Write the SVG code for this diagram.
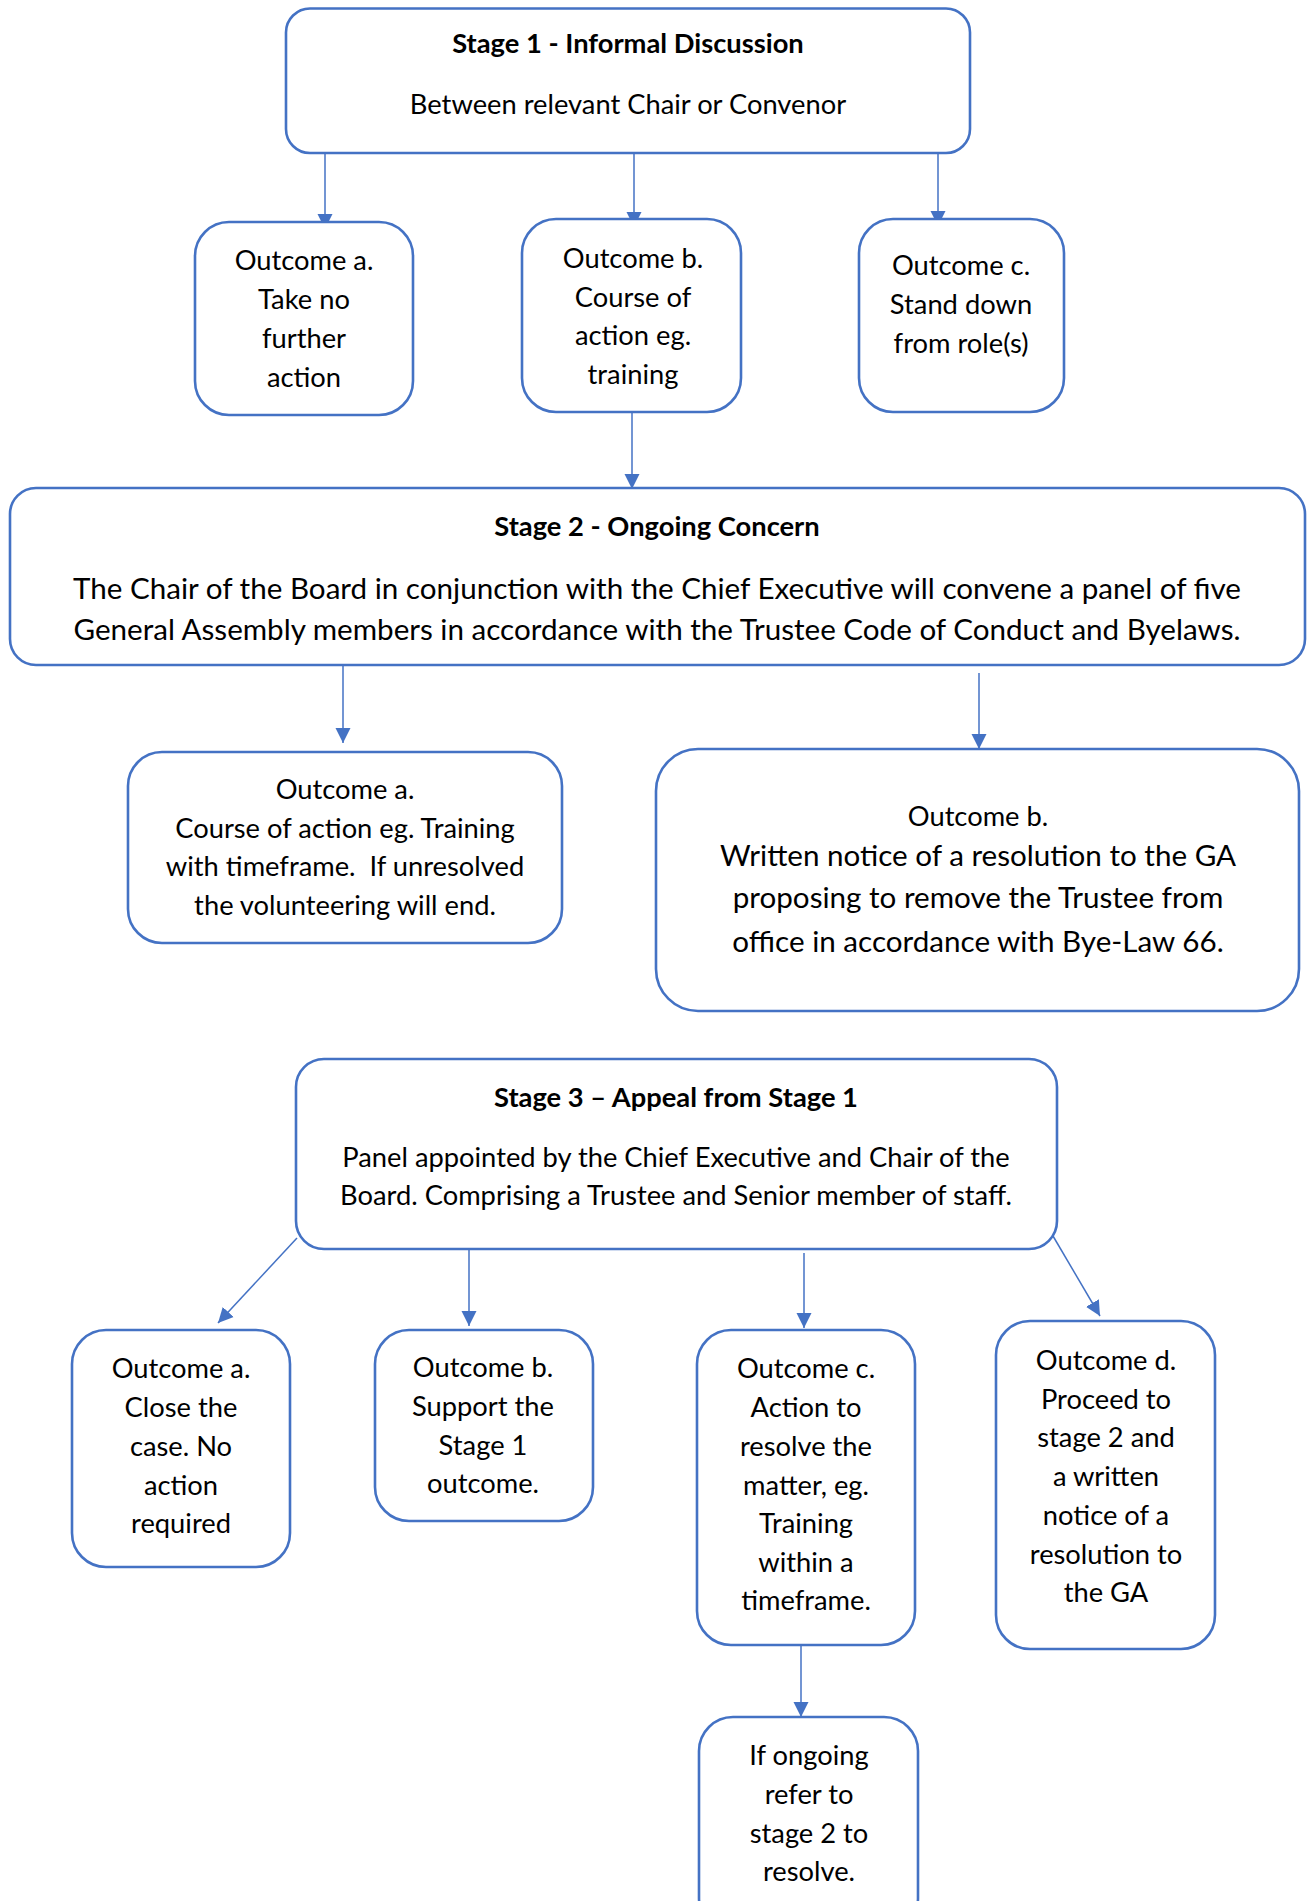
<svg xmlns="http://www.w3.org/2000/svg" width="1308" height="1901" viewBox="0 0 1308 1901">
<style>
.box{fill:#fff;stroke:#4472C4;stroke-width:2.6}
.t{font-family:Lato,"Liberation Sans",sans-serif;font-size:27.3px;fill:#000;text-anchor:middle}
.b{font-weight:bold}
.big{font-size:29.6px}
.con line{stroke:#4472C4;stroke-width:1.5;marker-end:url(#ah)}
</style>
<defs>
<marker id="ah" markerUnits="userSpaceOnUse" markerWidth="18" markerHeight="18" viewBox="0 0 18 18" refX="15" refY="9" orient="auto">
<path d="M0,1.5 L15,9 L0,16.5 Z" fill="#4472C4"/>
</marker>
</defs>
<rect width="1308" height="1901" fill="#fff"/>
<g id="connectors" class="con">
<line x1="325" y1="153" x2="325" y2="229"/>
<line x1="634" y1="153" x2="634" y2="227"/>
<line x1="938" y1="153" x2="938" y2="226"/>
<line x1="632" y1="412" x2="632" y2="489"/>
<line x1="343" y1="665" x2="343" y2="743"/>
<line x1="979" y1="673" x2="979" y2="749"/>
<line x1="297" y1="1238" x2="218" y2="1323"/>
<line x1="469" y1="1250" x2="469" y2="1326"/>
<line x1="804" y1="1253" x2="804" y2="1328"/>
<line x1="1053" y1="1236" x2="1100" y2="1316"/>
<line x1="801" y1="1643" x2="801" y2="1717"/>
</g>
<g id="stage1">
<rect class="box" x="286" y="8.5" width="684" height="144.5" rx="24"/>
<text class="t b" x="628" y="53">Stage 1 - Informal Discussion</text>
<text class="t" x="628" y="114">Between relevant Chair or Convenor</text>
</g>
<g id="s1a">
<rect class="box" x="195" y="222" width="218" height="193" rx="34"/>
<text class="t" x="304" y="270">Outcome a.</text>
<text class="t" x="304" y="309">Take no</text>
<text class="t" x="304" y="348">further</text>
<text class="t" x="304" y="387">action</text>
</g>
<g id="s1b">
<rect class="box" x="522" y="219" width="219" height="193" rx="34"/>
<text class="t" x="633" y="268">Outcome b.</text>
<text class="t" x="633" y="307">Course of</text>
<text class="t" x="633" y="345">action eg.</text>
<text class="t" x="633" y="384">training</text>
</g>
<g id="s1c">
<rect class="box" x="859" y="219" width="205" height="193" rx="34"/>
<text class="t" x="961" y="275">Outcome c.</text>
<text class="t" x="961" y="314">Stand down</text>
<text class="t" x="961" y="353">from role(s)</text>
</g>
<g id="stage2">
<rect class="box" x="10" y="488" width="1295" height="177" rx="26"/>
<text class="t b" x="657" y="536">Stage 2 - Ongoing Concern</text>
<text class="t big" x="657" y="599">The Chair of the Board in conjunction with the Chief Executive will convene a panel of five</text>
<text class="t big" x="657" y="640">General Assembly members in accordance with the Trustee Code of Conduct and Byelaws.</text>
</g>
<g id="s2a">
<rect class="box" x="128" y="752" width="434" height="191" rx="34"/>
<text class="t" x="345" y="799">Outcome a.</text>
<text class="t" x="345" y="838">Course of action eg. Training</text>
<text class="t" x="345" y="876">with timeframe.&#160; If unresolved</text>
<text class="t" x="345" y="915">the volunteering will end.</text>
</g>
<g id="s2b">
<rect class="box" x="656" y="749" width="643" height="262" rx="42"/>
<text class="t" x="978" y="826">Outcome b.</text>
<text class="t big" x="978" y="866">Written notice of a resolution to the GA</text>
<text class="t big" x="978" y="908">proposing to remove the Trustee from</text>
<text class="t big" x="978" y="952">office in accordance with Bye-Law 66.</text>
</g>
<g id="stage3">
<rect class="box" x="296" y="1059" width="761" height="190" rx="28"/>
<text class="t b" x="676" y="1107">Stage 3 – Appeal from Stage 1</text>
<text class="t" x="676" y="1167">Panel appointed by the Chief Executive and Chair of the</text>
<text class="t" x="676" y="1205">Board. Comprising a Trustee and Senior member of staff.</text>
</g>
<g id="s3a">
<rect class="box" x="72" y="1330" width="218" height="237" rx="34"/>
<text class="t" x="181" y="1378">Outcome a.</text>
<text class="t" x="181" y="1417">Close the</text>
<text class="t" x="181" y="1456">case. No</text>
<text class="t" x="181" y="1495">action</text>
<text class="t" x="181" y="1533">required</text>
</g>
<g id="s3b">
<rect class="box" x="375" y="1330" width="218" height="191" rx="34"/>
<text class="t" x="483" y="1377">Outcome b.</text>
<text class="t" x="483" y="1416">Support the</text>
<text class="t" x="483" y="1455">Stage 1</text>
<text class="t" x="483" y="1493">outcome.</text>
</g>
<g id="s3c">
<rect class="box" x="697" y="1330" width="218" height="315" rx="34"/>
<text class="t" x="806" y="1378">Outcome c.</text>
<text class="t" x="806" y="1417">Action to</text>
<text class="t" x="806" y="1456">resolve the</text>
<text class="t" x="806" y="1495">matter, eg.</text>
<text class="t" x="806" y="1533">Training</text>
<text class="t" x="806" y="1572">within a</text>
<text class="t" x="806" y="1610">timeframe.</text>
</g>
<g id="s3d">
<rect class="box" x="996" y="1321" width="219" height="328" rx="34"/>
<text class="t" x="1106" y="1370">Outcome d.</text>
<text class="t" x="1106" y="1409">Proceed to</text>
<text class="t" x="1106" y="1447">stage 2 and</text>
<text class="t" x="1106" y="1486">a written</text>
<text class="t" x="1106" y="1525">notice of a</text>
<text class="t" x="1106" y="1564">resolution to</text>
<text class="t" x="1106" y="1602">the GA</text>
</g>
<g id="s3c_next">
<rect class="box" x="699" y="1717" width="219" height="215" rx="34"/>
<text class="t" x="809" y="1765">If ongoing</text>
<text class="t" x="809" y="1804">refer to</text>
<text class="t" x="809" y="1843">stage 2 to</text>
<text class="t" x="809" y="1881">resolve.</text>
</g>
</svg>
